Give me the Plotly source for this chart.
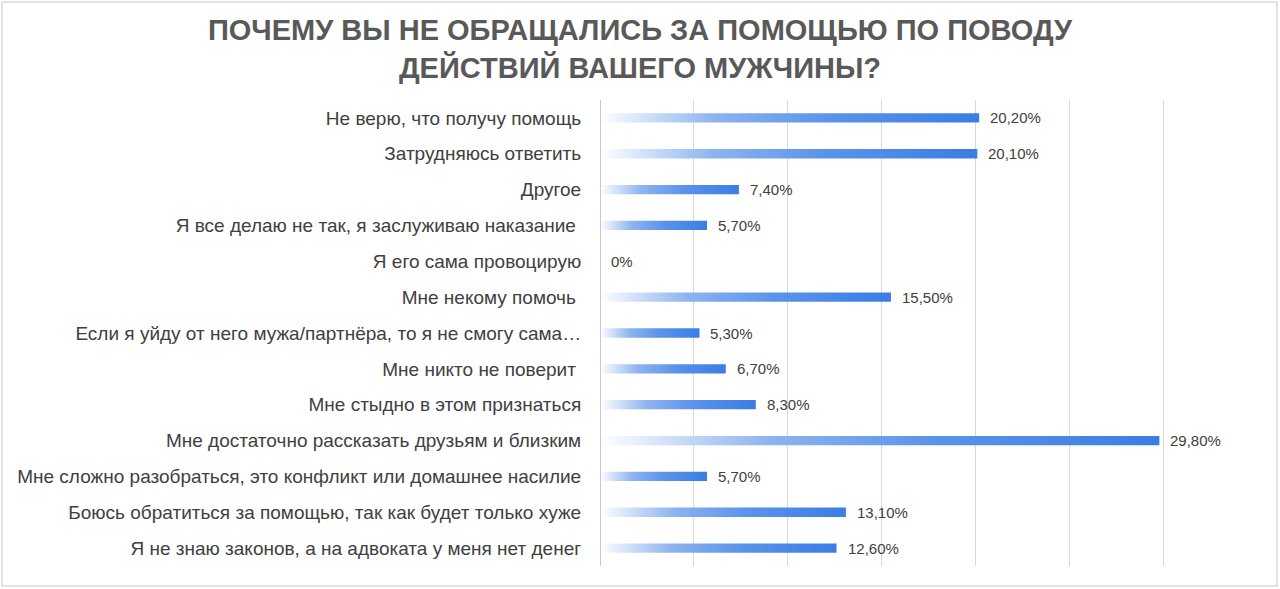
import plotly.graph_objects as go

categories = [
    "Не верю, что получу помощь",
    "Затрудняюсь ответить",
    "Другое",
    "Я все делаю не так, я заслуживаю наказание ",
    "Я его сама провоцирую",
    "Мне некому помочь ",
    "Если я уйду от него мужа/партнёра, то я не смогу сама…",
    "Мне никто не поверит ",
    "Мне стыдно в этом признаться",
    "Мне достаточно рассказать друзьям и близким",
    "Мне сложно разобраться, это конфликт или домашнее насилие",
    "Боюсь обратиться за помощью, так как будет только хуже",
    "Я не знаю законов, а на адвоката у меня нет денег",
]
values = [20.2, 20.1, 7.4, 5.7, 0.0, 15.5, 5.3, 6.7, 8.3, 29.8, 5.7, 13.1, 12.6]
value_labels = ["20,20%", "20,10%", "7,40%", "5,70%", "0%", "15,50%", "5,30%",
                "6,70%", "8,30%", "29,80%", "5,70%", "13,10%", "12,60%"]
title_text = "ПОЧЕМУ ВЫ НЕ ОБРАЩАЛИСЬ ЗА ПОМОЩЬЮ ПО ПОВОДУ<br>ДЕЙСТВИЙ ВАШЕГО МУЖЧИНЫ?"

W, H = 1280, 589
ML, MR, MT, MB = 600, 23, 100, 23
half = 0.13

fig = go.Figure()
for i, (cat, v) in enumerate(zip(categories, values)):
    if v <= 0:
        continue
    fig.add_trace(go.Scatter(
        x=[0, v, v, 0, 0],
        y=[i - half, i - half, i + half, i + half, i - half],
        mode="lines",
        line=dict(width=0),
        fill="toself",
        fillgradient=dict(
            type="horizontal",
            colorscale=[[0, "rgba(255,255,255,1)"], [0.3, "#8db4f0"], [0.6, "#5a93ea"], [1, "#3b7de6"]],
            start=0, stop=v,
        ),
        hoverinfo="skip",
        showlegend=False,
    ))

for i, (v, lab) in enumerate(zip(values, value_labels)):
    fig.add_annotation(x=v, y=i, text=lab, xanchor="left", yanchor="middle",
                       xshift=9, showarrow=False,
                       font=dict(family="Liberation Sans, Arial, sans-serif", size=15, color="#404040"))

pw = W - ML - MR
ph = H - MT - MB
fig.update_layout(
    width=W, height=H,
    margin=dict(l=ML, r=MR, t=MT, b=MB),
    paper_bgcolor="white", plot_bgcolor="white",
    title=dict(text=title_text, x=0.5, xref="container", xanchor="center",
               y=1 - 40 / H, yref="container", yanchor="middle",
               font=dict(family="Liberation Sans Narrow, Arial Narrow, Liberation Sans, sans-serif",
                         size=29, color="#595959", weight="bold")),
    xaxis=dict(range=[0, 35], dtick=5, showticklabels=False, showgrid=True,
               gridcolor="#d9d9d9", gridwidth=1, zeroline=False, showline=False,
               fixedrange=True),
    yaxis=dict(range=[len(categories) - 0.5, -0.5], tickvals=list(range(len(categories))),
               ticktext=categories, showgrid=False, zeroline=False,
               ticks="outside", ticklen=14, tickcolor="rgba(0,0,0,0)",
               tickfont=dict(family="Liberation Sans, Arial, sans-serif", size=19, color="#404040"),
               showline=False),
    shapes=[
        dict(type="line", xref="x", yref="paper", x0=0, x1=0, y0=0, y1=1,
             line=dict(color="#c8c8c8", width=2)),
        dict(type="rect", xref="paper", yref="paper",
             x0=(2 - ML) / pw, x1=(W - 3 - ML) / pw,
             y0=-(MB - 3) / ph, y1=1 + (MT - 2) / ph,
             line=dict(color="#d9d9d9", width=1.5)),
    ],
)

fig.write_html("out.html", config={"displayModeBar": False},
               post_script="document.body.style.margin='0';")
